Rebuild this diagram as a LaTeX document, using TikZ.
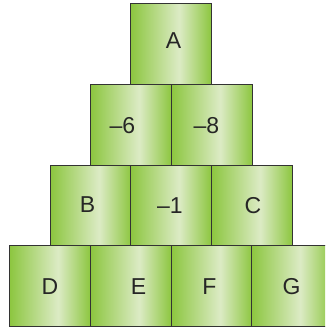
\documentclass[tikz,border=0pt]{standalone}
\usepackage{fontspec}
\setmainfont{Liberation Sans}
\definecolor{gedge}{HTML}{8CC63F}
\definecolor{glight}{HTML}{DCEBC5}
\definecolor{boxline}{HTML}{333333}
\pgfdeclarehorizontalshading{boxshade}{100bp}{color(0bp)=(gedge); color(25bp)=(gedge); color(55bp)=(glight); color(75bp)=(gedge); color(100bp)=(gedge)}
\begin{document}
\begin{tikzpicture}[x=1pt,y=-1pt,
  cube/.style={draw=boxline, line width=0.9pt, shading=boxshade, minimum width=81pt, minimum height=81pt, inner sep=0pt, anchor=north west},
  lbl/.style={font=\fontsize{23}{27}\selectfont, inner sep=0pt, text=black!85}]
\useasboundingbox (0,0) rectangle (325,332);
\clip (0,0) rectangle (325,332);
% row 1
\node[cube] (bA) at (130,3) {};
% row 2
\node[cube] (b21) at (90,84) {};
\node[cube] (b22) at (171,84) {};
% row 3
\node[cube] (bB) at (50,165) {};
\node[cube] (b32) at (130,165) {};
\node[cube] (bC) at (211,165) {};
% row 4
\node[cube] (bD) at (9,245) {};
\node[cube] (bE) at (90,245) {};
\node[cube] (bF) at (171,245) {};
\node[cube] (bG) at (251,245) {};
% labels
\node[lbl] (tA) at (173.5,41) {A};
\node[lbl] (t6) at (122.5,126) {–6};
\node[lbl] (t8) at (206.5,126) {–8};
\node[lbl] (tB) at (87.5,205) {B};
\node[lbl] (t1) at (170,206) {–1};
\node[lbl] (tC) at (253,206) {C};
\node[lbl] (tD) at (50,286.5) {D};
\node[lbl] (tE) at (138.5,286.5) {E};
\node[lbl] (tF) at (209.5,286.5) {F};
\node[lbl] (tG) at (291.5,286.5) {G};
\end{tikzpicture}
\end{document}
